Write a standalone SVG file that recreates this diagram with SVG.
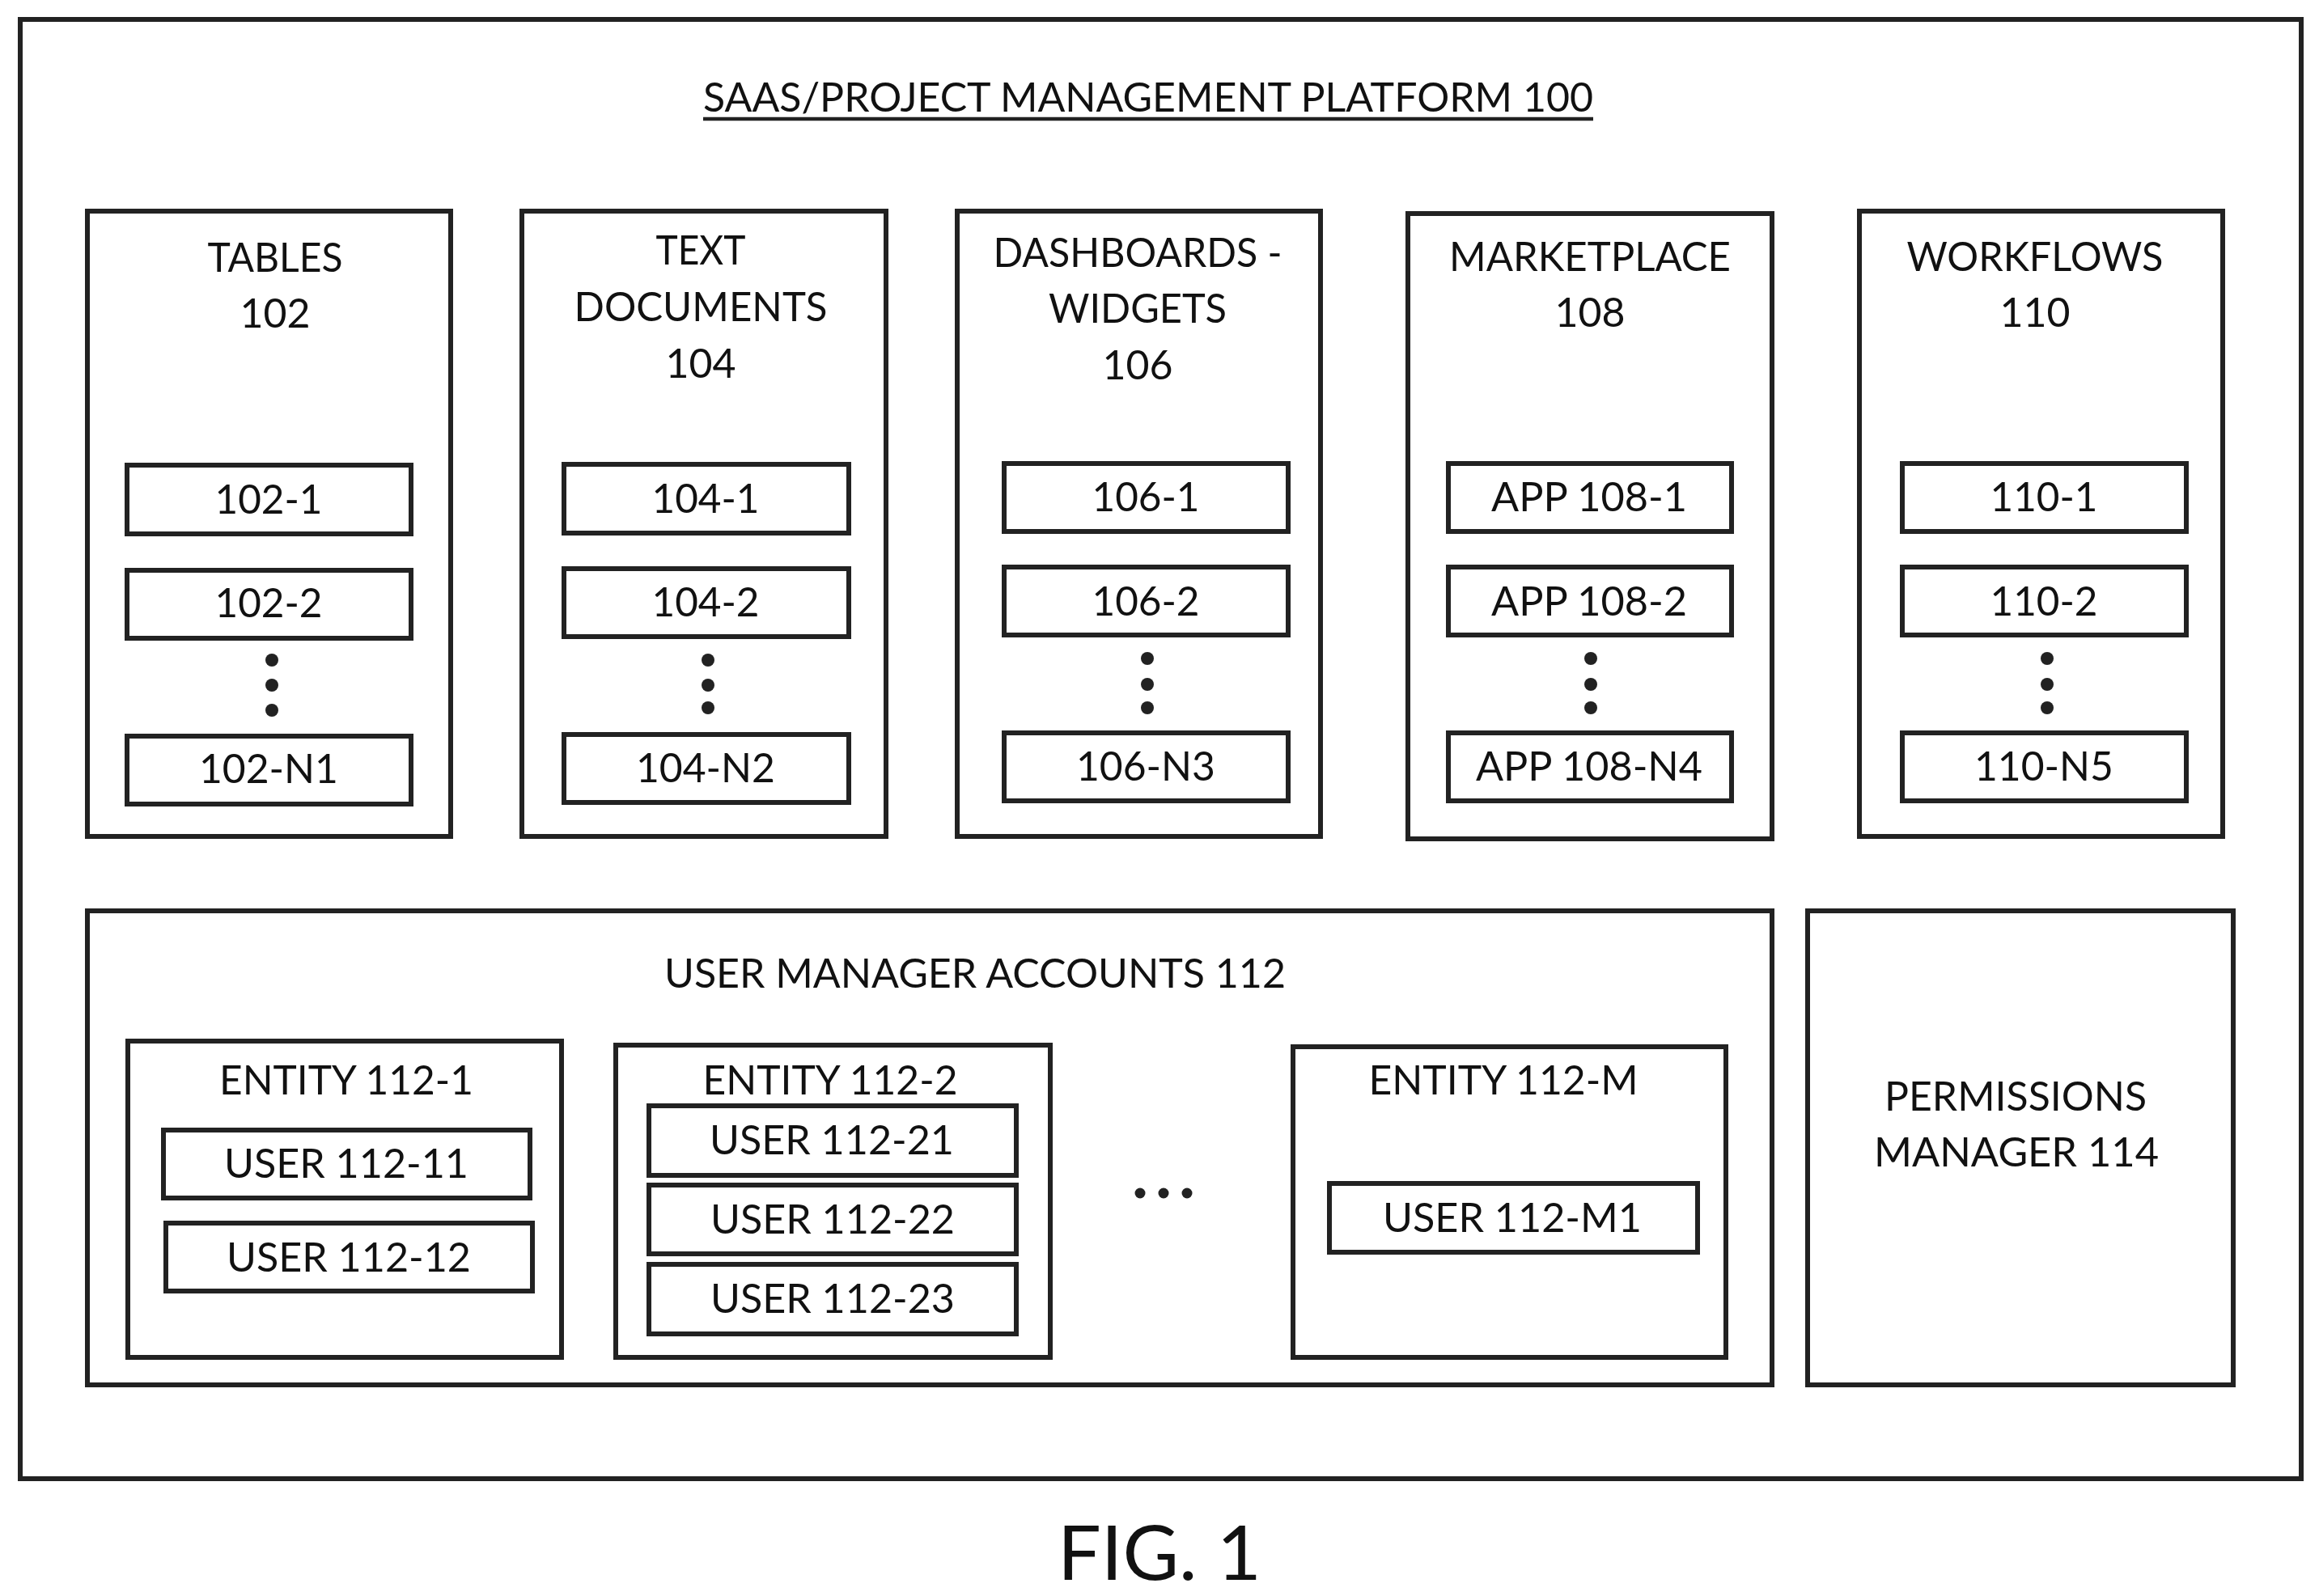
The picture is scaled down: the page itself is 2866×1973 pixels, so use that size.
<svg xmlns="http://www.w3.org/2000/svg" width="2866" height="1973" viewBox="0 0 2866 1973">
<style>
rect{fill:none;stroke:#222;stroke-width:6}
circle{fill:#222}
text{font-family:"Lato","Liberation Sans",sans-serif;font-size:51px;fill:#111;text-anchor:middle}
.fig{font-size:94px}
.ul{stroke:#222;stroke-width:4.5}
</style>
<rect x="0" y="0" width="2866" height="1973" style="fill:#fff;stroke:none"/>
<g id="platform">
<rect x="25" y="24" width="2819" height="1804"/>
<text x="1419" y="138" textLength="1100" lengthAdjust="spacingAndGlyphs">SAAS/PROJECT MANAGEMENT PLATFORM 100</text>
<line class="ul" x1="869" y1="147" x2="1969" y2="147"/>
</g>
<g id="tables">
<rect x="108" y="261" width="449" height="773"/>
<text x="340" y="336" textLength="167" lengthAdjust="spacingAndGlyphs">TABLES</text>
<text x="340" y="405" textLength="87" lengthAdjust="spacingAndGlyphs">102</text>
<g id="n102-1"><rect x="157" y="575" width="351" height="85"/><text x="332" y="635" textLength="133" lengthAdjust="spacingAndGlyphs">102-1</text></g>
<g id="n102-2"><rect x="157" y="705" width="351" height="84"/><text x="332" y="763" textLength="133" lengthAdjust="spacingAndGlyphs">102-2</text></g>
<circle cx="336" cy="816" r="8"/><circle cx="336" cy="847" r="8"/><circle cx="336" cy="878" r="8"/>
<g id="n102-N1"><rect x="157" y="910" width="351" height="84"/><text x="332" y="968" textLength="172" lengthAdjust="spacingAndGlyphs">102-N1</text></g>
</g>
<g id="text-documents">
<rect x="645" y="261" width="450" height="773"/>
<text x="866" y="327" textLength="111" lengthAdjust="spacingAndGlyphs">TEXT</text>
<text x="866" y="397" textLength="313" lengthAdjust="spacingAndGlyphs">DOCUMENTS</text>
<text x="866" y="467" textLength="87" lengthAdjust="spacingAndGlyphs">104</text>
<g id="n104-1"><rect x="697" y="574" width="352" height="85"/><text x="872" y="634" textLength="133" lengthAdjust="spacingAndGlyphs">104-1</text></g>
<g id="n104-2"><rect x="697" y="703" width="352" height="84"/><text x="872" y="762" textLength="133" lengthAdjust="spacingAndGlyphs">104-2</text></g>
<circle cx="875" cy="816" r="8"/><circle cx="875" cy="847" r="8"/><circle cx="875" cy="875" r="8"/>
<g id="n104-N2"><rect x="697" y="908" width="352" height="84"/><text x="872" y="967" textLength="172" lengthAdjust="spacingAndGlyphs">104-N2</text></g>
</g>
<g id="dashboards">
<rect x="1183" y="261" width="449" height="773"/>
<text x="1406" y="330" textLength="357" lengthAdjust="spacingAndGlyphs">DASHBOARDS -</text>
<text x="1406" y="399" textLength="220" lengthAdjust="spacingAndGlyphs">WIDGETS</text>
<text x="1406" y="469" textLength="87" lengthAdjust="spacingAndGlyphs">106</text>
<g id="n106-1"><rect x="1241" y="573" width="351" height="84"/><text x="1416" y="632" textLength="133" lengthAdjust="spacingAndGlyphs">106-1</text></g>
<g id="n106-2"><rect x="1241" y="701" width="351" height="84"/><text x="1416" y="761" textLength="133" lengthAdjust="spacingAndGlyphs">106-2</text></g>
<circle cx="1418" cy="814" r="8"/><circle cx="1418" cy="846" r="8"/><circle cx="1418" cy="875" r="8"/>
<g id="n106-N3"><rect x="1241" y="906" width="351" height="84"/><text x="1416" y="965" textLength="172" lengthAdjust="spacingAndGlyphs">106-N3</text></g>
</g>
<g id="marketplace">
<rect x="1740" y="264" width="450" height="773"/>
<text x="1965" y="335" textLength="348" lengthAdjust="spacingAndGlyphs">MARKETPLACE</text>
<text x="1965" y="404" textLength="87" lengthAdjust="spacingAndGlyphs">108</text>
<g id="n108-1"><rect x="1790" y="573" width="350" height="84"/><text x="1964" y="632" textLength="242" lengthAdjust="spacingAndGlyphs">APP 108-1</text></g>
<g id="n108-2"><rect x="1790" y="701" width="350" height="84"/><text x="1964" y="761" textLength="242" lengthAdjust="spacingAndGlyphs">APP 108-2</text></g>
<circle cx="1966" cy="814" r="8"/><circle cx="1966" cy="846" r="8"/><circle cx="1966" cy="875" r="8"/>
<g id="n108-N4"><rect x="1790" y="906" width="350" height="84"/><text x="1964" y="965" textLength="280" lengthAdjust="spacingAndGlyphs">APP 108-N4</text></g>
</g>
<g id="workflows">
<rect x="2298" y="261" width="449" height="773"/>
<text x="2515" y="335" textLength="317" lengthAdjust="spacingAndGlyphs">WORKFLOWS</text>
<text x="2515" y="404" textLength="87" lengthAdjust="spacingAndGlyphs">110</text>
<g id="n110-1"><rect x="2351" y="573" width="351" height="84"/><text x="2526" y="632" textLength="133" lengthAdjust="spacingAndGlyphs">110-1</text></g>
<g id="n110-2"><rect x="2351" y="701" width="351" height="84"/><text x="2526" y="761" textLength="133" lengthAdjust="spacingAndGlyphs">110-2</text></g>
<circle cx="2530" cy="814" r="8"/><circle cx="2530" cy="846" r="8"/><circle cx="2530" cy="875" r="8"/>
<g id="n110-N5"><rect x="2351" y="906" width="351" height="84"/><text x="2526" y="965" textLength="172" lengthAdjust="spacingAndGlyphs">110-N5</text></g>
</g>
<g id="user-manager-accounts">
<rect x="108" y="1126" width="2082" height="586"/>
<text x="1205" y="1221" textLength="768" lengthAdjust="spacingAndGlyphs">USER MANAGER ACCOUNTS 112</text>
<g id="entity-1"><rect x="158" y="1287" width="536" height="391"/>
<text x="428" y="1353" textLength="314" lengthAdjust="spacingAndGlyphs">ENTITY 112-1</text>
<g id="user-11"><rect x="202" y="1397" width="453" height="84"/><text x="428" y="1456" textLength="302" lengthAdjust="spacingAndGlyphs">USER 112-11</text></g>
<g id="user-12"><rect x="205" y="1512" width="453" height="84"/><text x="431" y="1572" textLength="302" lengthAdjust="spacingAndGlyphs">USER 112-12</text></g>
</g>
<g id="entity-2"><rect x="761" y="1292" width="537" height="386"/>
<text x="1026" y="1353" textLength="315" lengthAdjust="spacingAndGlyphs">ENTITY 112-2</text>
<g id="user-21"><rect x="802" y="1367" width="454" height="86"/><text x="1028" y="1427" textLength="302" lengthAdjust="spacingAndGlyphs">USER 112-21</text></g>
<g id="user-22"><rect x="802" y="1465" width="454" height="85"/><text x="1029" y="1525" textLength="302" lengthAdjust="spacingAndGlyphs">USER 112-22</text></g>
<g id="user-23"><rect x="802" y="1563" width="454" height="86"/><text x="1029" y="1623" textLength="302" lengthAdjust="spacingAndGlyphs">USER 112-23</text></g>
</g>
<g id="ellipsis"><circle cx="1409" cy="1475" r="6.5"/><circle cx="1438" cy="1475" r="6.5"/><circle cx="1467" cy="1475" r="6.5"/></g>
<g id="entity-m"><rect x="1598" y="1294" width="535" height="384"/>
<text x="1858" y="1353" textLength="333" lengthAdjust="spacingAndGlyphs">ENTITY 112-M</text>
<g id="user-m1"><rect x="1643" y="1463" width="455" height="85"/><text x="1869" y="1523" textLength="320" lengthAdjust="spacingAndGlyphs">USER 112-M1</text></g>
</g>
</g>
<g id="permissions-manager">
<rect x="2234" y="1126" width="526" height="586"/>
<text x="2491" y="1373" textLength="324" lengthAdjust="spacingAndGlyphs">PERMISSIONS</text>
<text x="2492" y="1442" textLength="352" lengthAdjust="spacingAndGlyphs">MANAGER 114</text>
</g>
<text class="fig" x="1433" y="1953" textLength="252" lengthAdjust="spacingAndGlyphs">FIG. 1</text>
<g id="connectors"/>
</svg>
